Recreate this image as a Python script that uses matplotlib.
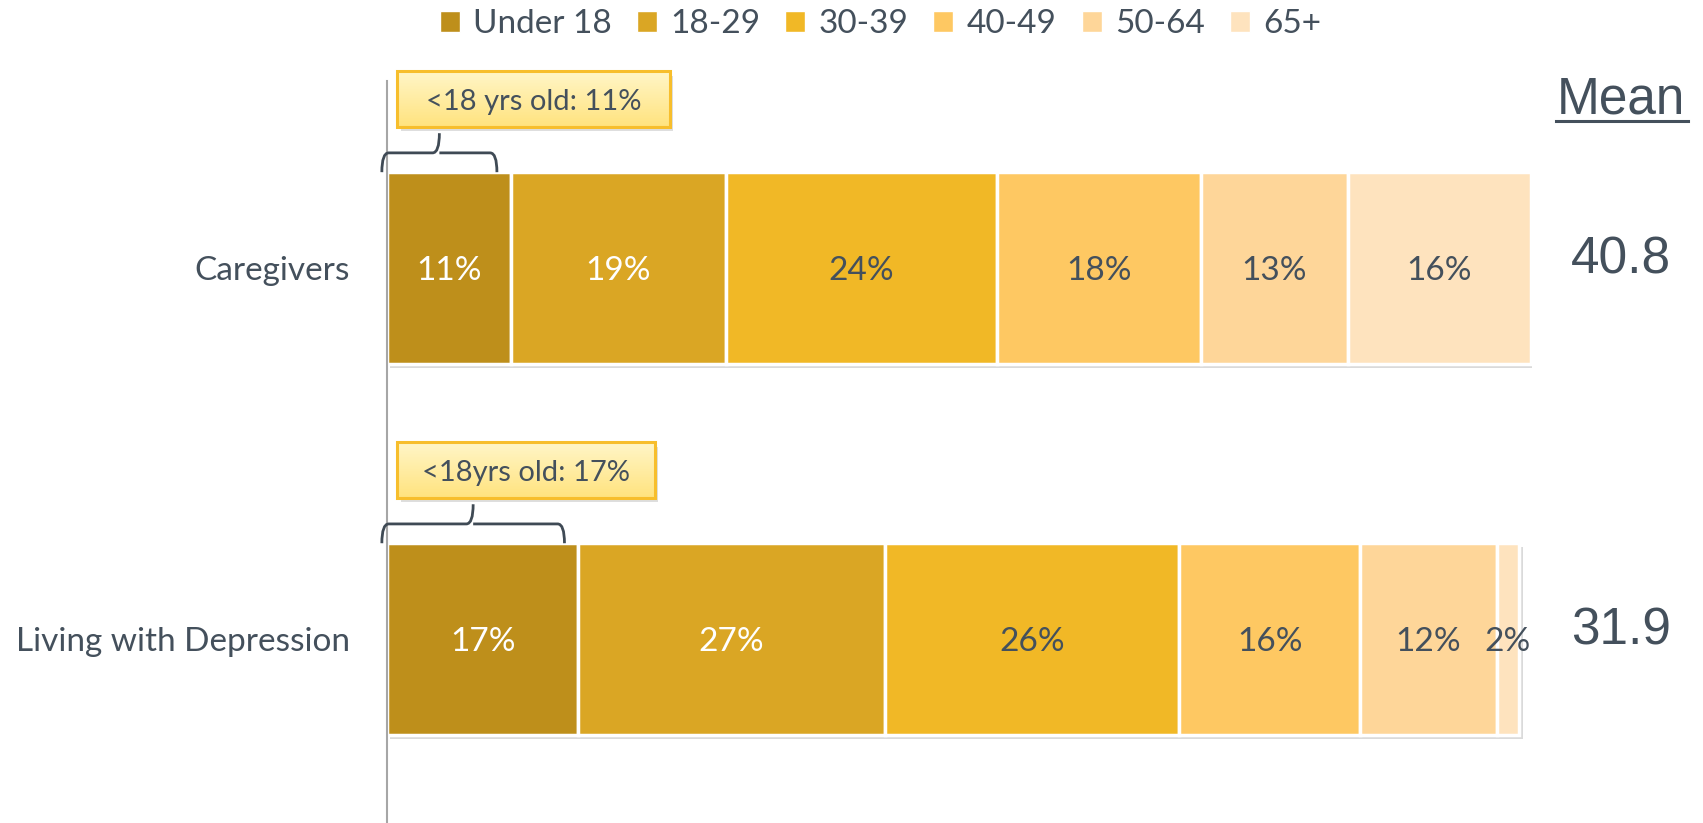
import matplotlib.pyplot as plt
import numpy as np
from matplotlib.patches import Rectangle, Patch
from matplotlib.path import Path
from matplotlib.patches import PathPatch
from matplotlib.lines import Line2D
from matplotlib.colors import LinearSegmentedColormap

groups = ['Caregivers', 'Living with Depression']
age_bands = ['Under 18', '18-29', '30-39', '40-49', '50-64', '65+']
caregivers = [10.8, 18.8, 23.7, 17.8, 12.8, 16.0]
depression = [16.7, 26.8, 25.7, 15.8, 11.9, 2.0]
means = [40.8, 31.9]
callouts = ['<18 yrs old: 11%', '<18yrs old: 17%']
callout_widths = [23.8, 22.5]

colors = ['#BE8F1B', '#DAA624', '#F1B826', '#FEC862', '#FED699', '#FEE3BE']
label_colors = ['white', 'white', '#44505C', '#44505C', '#44505C', '#44505C']
text_col = '#44505C'

W, H = 1703, 823
fig = plt.figure(figsize=(W / 100, H / 100), dpi=100)
ax = fig.add_axes([387 / W, 0, 1145 / W, 1])

bar_h = 0.517
data = [caregivers, depression]
box_cmap = LinearSegmentedColormap.from_list('callout', ['#FFF6C8', '#FFE37E'])

for i, vals in enumerate(data):
    # soft shadow under the bar
    ax.barh(i + 0.01, sum(vals), left=0.3, height=bar_h, color='#dadada', zorder=1)
    left = 0
    for j, v in enumerate(vals):
        ax.barh(i, v, left=left, height=bar_h, color=colors[j], edgecolor='white',
                linewidth=2.5, zorder=2)
        ax.text(left + v / 2, i, '%d%%' % round(v), ha='center', va='center_baseline',
                fontsize=24, family='Lato', color=label_colors[j], zorder=3)
        left += v
    # mean value
    ax.text(107.8, i + 0.015, '%.1f' % means[i], ha='center', va='baseline',
            fontsize=37, family='Liberation Sans', color=text_col, clip_on=False)

    # curly brace over the first segment
    x0, x1 = -0.45, vals[0] - 1.2
    xc = (x0 + x1) / 2
    ye, ym, yt = i - 0.258, i - 0.31, i - 0.363
    r = 0.6
    verts = [(x0, ye), (x0, ym), (x0 + r, ym), (xc - r, ym), (xc, ym), (xc, yt),
             (xc, ym), (xc + r, ym), (x1 - r, ym), (x1, ym), (x1, ye)]
    codes = [Path.MOVETO, Path.CURVE3, Path.CURVE3, Path.LINETO, Path.CURVE3, Path.CURVE3,
             Path.MOVETO, Path.CURVE3, Path.LINETO, Path.CURVE3, Path.CURVE3]
    ax.add_patch(PathPatch(Path(verts, codes), fill=False, edgecolor='#3F4A55',
                           linewidth=2, zorder=4, clip_on=False))

    # callout box with gradient fill
    bx, bw = 0.9, callout_widths[i]
    by, bh = i - 0.53, 0.15
    ax.add_patch(Rectangle((bx + 0.3, by + 0.012), bw, bh, facecolor='#c8c8c8',
                           edgecolor='none', alpha=0.6, zorder=4))
    box = Rectangle((bx, by), bw, bh, facecolor='none', edgecolor='#F7BE2C',
                    linewidth=2.2, zorder=6)
    ax.add_patch(box)
    grad = np.linspace(0, 1, 100).reshape(-1, 1)
    im = ax.imshow(grad, cmap=box_cmap, extent=(bx, bx + bw, by + bh, by),
                   aspect='auto', zorder=5)
    im.set_clip_path(box)
    ax.text(bx + bw / 2, by + bh / 2, callouts[i], ha='center', va='center_baseline',
            fontsize=21, family='Lato', color=text_col, zorder=7)

ax.set_xlim(0, 100)
ax.set_ylim(1.496, -0.722)

ax.set_yticks(range(len(groups)))
ax.set_yticklabels(groups, fontsize=24, family='Lato', color=text_col)
ax.tick_params(axis='y', length=0, pad=27)
ax.set_xticks([])
for s in ['top', 'right', 'bottom']:
    ax.spines[s].set_visible(False)
ax.spines['left'].set_color('#A6A6A6')
ax.spines['left'].set_linewidth(1.5)
ax.spines['left'].set_bounds(-0.505, 1.496)
ax.patch.set_alpha(0)

# Mean header, underlined
fig.text(1621 / W, 1 - 113 / H, 'Mean', ha='center', va='baseline', fontsize=37,
         family='Liberation Sans', color=text_col)
fig.add_artist(Line2D([1556 / W, 1688 / W], [1 - 121 / H, 1 - 121 / H],
                      color=text_col, linewidth=2.2))

handles = [Patch(facecolor=c, edgecolor='white') for c in colors]
fig.legend(handles, age_bands, loc='upper center', bbox_to_anchor=(0.517, 1.025), ncol=6,
           frameon=False, prop={'family': 'Lato', 'size': 24}, labelcolor=text_col,
           handlelength=0.6, handleheight=0.6, handletextpad=0.4, columnspacing=0.75)

fig.savefig('out.png', dpi=100)
